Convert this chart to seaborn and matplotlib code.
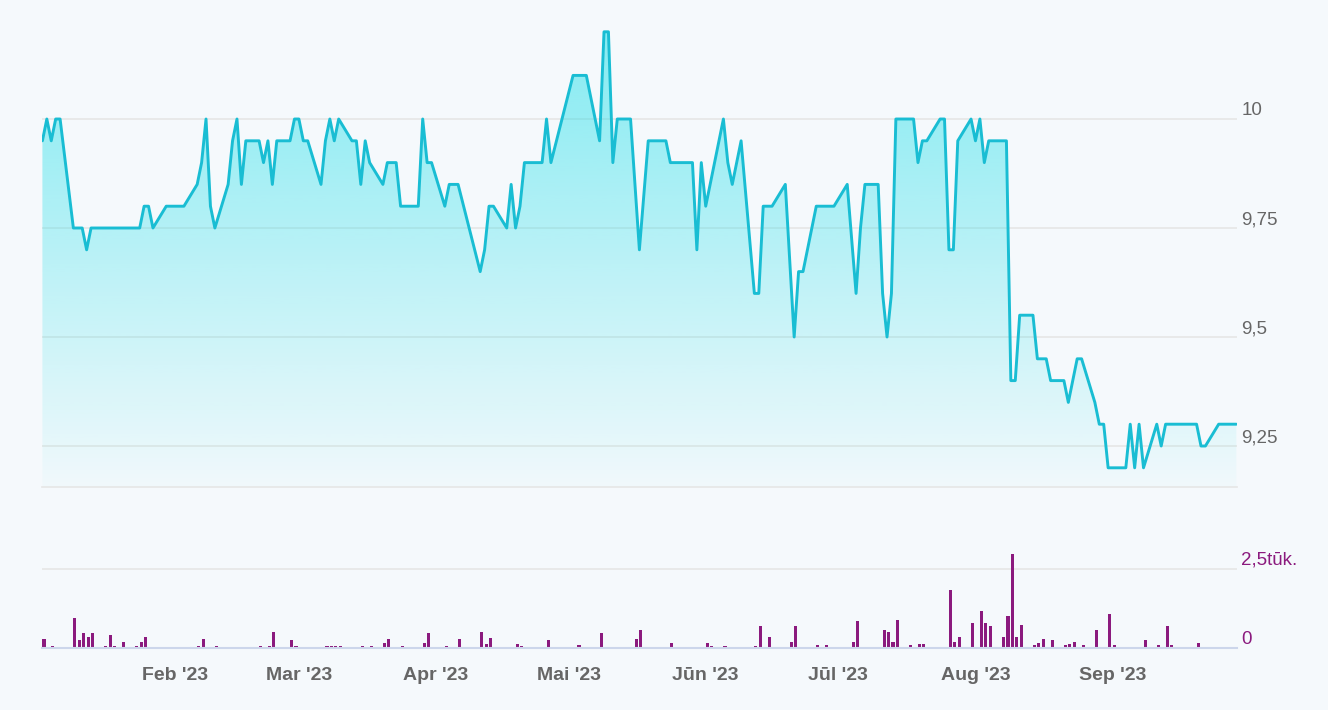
import numpy as np
import pandas as pd
import seaborn as sns
import matplotlib.pyplot as plt
import matplotlib.dates as mdates
from matplotlib.colors import to_rgb

# closing price (only the days where the line turns)
price_dates = [
    '2023-01-02', '2023-01-03', '2023-01-04', '2023-01-05', '2023-01-06', '2023-01-09',
    '2023-01-11', '2023-01-12', '2023-01-13', '2023-01-24', '2023-01-25', '2023-01-26',
    '2023-01-27', '2023-01-30', '2023-02-03', '2023-02-06', '2023-02-07', '2023-02-08',
    '2023-02-09', '2023-02-10', '2023-02-13', '2023-02-14', '2023-02-15', '2023-02-16',
    '2023-02-17', '2023-02-20', '2023-02-21', '2023-02-22', '2023-02-23', '2023-02-24',
    '2023-02-27', '2023-02-28', '2023-03-01', '2023-03-02', '2023-03-03', '2023-03-06',
    '2023-03-07', '2023-03-08', '2023-03-09', '2023-03-10', '2023-03-13', '2023-03-14',
    '2023-03-15', '2023-03-16', '2023-03-17', '2023-03-20', '2023-03-21', '2023-03-23',
    '2023-03-24', '2023-03-28', '2023-03-29', '2023-03-30', '2023-03-31', '2023-04-03',
    '2023-04-04', '2023-04-06', '2023-04-11', '2023-04-12', '2023-04-13', '2023-04-14',
    '2023-04-17', '2023-04-18', '2023-04-19', '2023-04-20', '2023-04-21', '2023-04-25',
    '2023-04-26', '2023-04-27', '2023-05-02', '2023-05-05', '2023-05-08', '2023-05-09',
    '2023-05-10', '2023-05-11', '2023-05-12', '2023-05-15', '2023-05-17', '2023-05-19',
    '2023-05-23', '2023-05-24', '2023-05-29', '2023-05-30', '2023-05-31', '2023-06-01',
    '2023-06-05', '2023-06-06', '2023-06-07', '2023-06-09', '2023-06-12', '2023-06-13',
    '2023-06-14', '2023-06-16', '2023-06-19', '2023-06-21', '2023-06-22', '2023-06-23',
    '2023-06-26', '2023-06-30', '2023-07-03', '2023-07-05', '2023-07-06', '2023-07-07',
    '2023-07-10', '2023-07-11', '2023-07-12', '2023-07-13', '2023-07-14', '2023-07-18',
    '2023-07-19', '2023-07-20', '2023-07-21', '2023-07-24', '2023-07-25', '2023-07-26',
    '2023-07-27', '2023-07-28', '2023-07-31', '2023-08-01', '2023-08-02', '2023-08-03',
    '2023-08-04', '2023-08-08', '2023-08-09', '2023-08-10', '2023-08-11', '2023-08-14',
    '2023-08-15', '2023-08-17', '2023-08-18', '2023-08-21', '2023-08-22', '2023-08-24',
    '2023-08-25', '2023-08-28', '2023-08-29', '2023-08-30', '2023-08-31', '2023-09-04',
    '2023-09-05', '2023-09-06', '2023-09-07', '2023-09-08', '2023-09-11', '2023-09-12',
    '2023-09-13', '2023-09-20', '2023-09-21', '2023-09-22', '2023-09-25', '2023-09-29',
]
price_values = [
    9.95, 10.0, 9.95, 10.0, 10.0, 9.75,
    9.75, 9.7, 9.75, 9.75, 9.8, 9.8,
    9.75, 9.8, 9.8, 9.85, 9.9, 10.0,
    9.8, 9.75, 9.85, 9.95, 10.0, 9.85,
    9.95, 9.95, 9.9, 9.95, 9.85, 9.95,
    9.95, 10.0, 10.0, 9.95, 9.95, 9.85,
    9.95, 10.0, 9.95, 10.0, 9.95, 9.95,
    9.85, 9.95, 9.9, 9.85, 9.9, 9.9,
    9.8, 9.8, 10.0, 9.9, 9.9, 9.8,
    9.85, 9.85, 9.65, 9.7, 9.8, 9.8,
    9.75, 9.85, 9.75, 9.8, 9.9, 9.9,
    10.0, 9.9, 10.1, 10.1, 9.95, 10.2,
    10.2, 9.9, 10.0, 10.0, 9.7, 9.95,
    9.95, 9.9, 9.9, 9.7, 9.9, 9.8,
    10.0, 9.9, 9.85, 9.95, 9.6, 9.6,
    9.8, 9.8, 9.85, 9.5, 9.65, 9.65,
    9.8, 9.8, 9.85, 9.6, 9.75, 9.85,
    9.85, 9.6, 9.5, 9.6, 10.0, 10.0,
    9.9, 9.95, 9.95, 10.0, 10.0, 9.7,
    9.7, 9.95, 10.0, 9.95, 10.0, 9.9,
    9.95, 9.95, 9.4, 9.4, 9.55, 9.55,
    9.45, 9.45, 9.4, 9.4, 9.35, 9.45,
    9.45, 9.35, 9.3, 9.3, 9.2, 9.2,
    9.3, 9.2, 9.3, 9.2, 9.3, 9.25,
    9.3, 9.3, 9.25, 9.25, 9.3, 9.3,
]

# traded volume (pieces), days with trades only
volume_dates = [
    '2023-01-02', '2023-01-04', '2023-01-09', '2023-01-10', '2023-01-11', '2023-01-12',
    '2023-01-13', '2023-01-16', '2023-01-17', '2023-01-18', '2023-01-20', '2023-01-23',
    '2023-01-24', '2023-01-25', '2023-01-30', '2023-02-01', '2023-02-06', '2023-02-07',
    '2023-02-10', '2023-02-20', '2023-02-22', '2023-02-23', '2023-02-27', '2023-02-28',
    '2023-03-01', '2023-03-02', '2023-03-06', '2023-03-07', '2023-03-08', '2023-03-09',
    '2023-03-10', '2023-03-15', '2023-03-17', '2023-03-20', '2023-03-21', '2023-03-24',
    '2023-03-29', '2023-03-30', '2023-04-03', '2023-04-06', '2023-04-11', '2023-04-12',
    '2023-04-13', '2023-04-19', '2023-04-20', '2023-04-26', '2023-05-03', '2023-05-08',
    '2023-05-09', '2023-05-11', '2023-05-15', '2023-05-16', '2023-05-17', '2023-05-24',
    '2023-06-01', '2023-06-02', '2023-06-05', '2023-06-07', '2023-06-12', '2023-06-13',
    '2023-06-15', '2023-06-20', '2023-06-21', '2023-06-22', '2023-06-26', '2023-06-28',
    '2023-07-04', '2023-07-05', '2023-07-06', '2023-07-07', '2023-07-11', '2023-07-12',
    '2023-07-13', '2023-07-14', '2023-07-17', '2023-07-19', '2023-07-20', '2023-07-24',
    '2023-07-26', '2023-07-27', '2023-07-28', '2023-07-31', '2023-08-01', '2023-08-02',
    '2023-08-03', '2023-08-04', '2023-08-07', '2023-08-08', '2023-08-09', '2023-08-10',
    '2023-08-11', '2023-08-14', '2023-08-15', '2023-08-16', '2023-08-17', '2023-08-18',
    '2023-08-21', '2023-08-22', '2023-08-23', '2023-08-25', '2023-08-28', '2023-08-29',
    '2023-08-31', '2023-09-01', '2023-09-05', '2023-09-06', '2023-09-08', '2023-09-11',
    '2023-09-12', '2023-09-13', '2023-09-14', '2023-09-18', '2023-09-20', '2023-09-25',
    '2023-09-26', '2023-09-29',
]
volume_values = [
    300, 50, 950, 250, 470, 350,
    470, 50, 420, 70, 200, 50,
    180, 340, 40, 40, 50, 300,
    50, 50, 50, 520, 260, 70,
    40, 40, 40, 70, 70, 70,
    70, 50, 50, 160, 280, 70,
    160, 470, 50, 280, 510, 120,
    330, 120, 70, 260, 90, 490,
    20, 20, 20, 300, 570, 150,
    150, 70, 70, 20, 70, 690,
    360, 190, 705, 30, 80, 80,
    190, 840, 30, 30, 560, 510,
    180, 900, 80, 130, 130, 30,
    1825, 190, 360, 790, 30, 1170,
    790, 700, 360, 1020, 2960, 360,
    740, 80, 160, 290, 30, 240,
    80, 130, 190, 80, 570, 30,
    1070, 80, 30, 30, 260, 80,
    30, 705, 80, 30, 160, 30,
    30, 30,
]

month_ticks = ['2023-02-01', '2023-03-01', '2023-04-01', '2023-05-01',
               '2023-06-01', '2023-07-01', '2023-08-01', '2023-09-01']
month_labels = ["Feb '23", "Mar '23", "Apr '23", "Mai '23",
                "Jūn '23", "Jūl '23", "Aug '23", "Sep '23"]
price_ticks = [9.25, 9.5, 9.75, 10.0]
price_labels = ['9,25', '9,5', '9,75', '10']
volume_ticks = [0, 2500]
volume_labels = ['0', '2,5tūk.']

bg = '#f5f9fc'
line_col = '#19bdd3'
bar_col = '#8b1a7e'
grid_col = '#e6e6e6'
axis_col = '#ccd6eb'
text_col = '#666666'

prices = pd.DataFrame({'date': pd.to_datetime(price_dates), 'price': price_values})
vol = pd.DataFrame({'date': pd.to_datetime(volume_dates), 'volume': volume_values})

sns.set_theme(style='white')
plt.rcParams['font.family'] = ['Liberation Sans', 'DejaVu Sans']

fig = plt.figure(figsize=(13.28, 7.10), dpi=100, facecolor=bg)
ax = fig.add_axes([0.0316, 0.3141, 0.8999, 0.6718])
axv = fig.add_axes([0.0316, 0.0873, 0.8999, 0.1381], sharex=ax)
for a in (ax, axv):
    a.set_facecolor('none')
    for s in a.spines.values():
        s.set_visible(False)

y_lo, y_hi = 9.156, 10.25
x_lo = mdates.date2num(prices['date'].iloc[0]) - 0.1
x_hi = mdates.date2num(prices['date'].iloc[-1]) + 0.15

# gradient area under the price line
area = ax.fill_between(prices['date'], prices['price'], y_lo, color='none', lw=0)
grad = np.zeros((256, 1, 4))
grad[:, :, :3] = to_rgb('#00dbe6')
grad[:, 0, 3] = np.linspace(0.02, 0.46, 256)
im = ax.imshow(grad, aspect='auto', origin='lower', interpolation='bilinear',
               extent=[x_lo, x_hi, y_lo, max(price_values)], zorder=1)
im.set_clip_path(area.get_paths()[0], transform=ax.transData)

sns.lineplot(data=prices, x='date', y='price', ax=ax, color=line_col, lw=2.1, zorder=3)

ax.set_xlim(x_lo, x_hi)
ax.set_ylim(y_lo, y_hi)
ax.set_xlabel('')
ax.set_ylabel('')
ax.set_yticks(price_ticks, price_labels, va='bottom')
ax.yaxis.tick_right()
ax.tick_params(axis='y', length=0, pad=3, labelsize=13.5, labelcolor=text_col)
ax.tick_params(axis='x', length=0, labelbottom=False)
ax.grid(axis='y', color=grid_col, lw=1.2)
ax.grid(axis='x', visible=False)
ax.spines['bottom'].set_visible(True)
ax.spines['bottom'].set_color(grid_col)
ax.spines['bottom'].set_linewidth(1.2)

# volume pane
axv.bar(vol['date'], vol['volume'], width=0.7, align='edge', color=bar_col, lw=0, zorder=3)
axv.set_ylim(0, 3100)
axv.set_yticks(volume_ticks, volume_labels, va='bottom')
axv.yaxis.tick_right()
axv.tick_params(axis='y', length=0, pad=3, labelsize=13.5, labelcolor=bar_col)
axv.grid(axis='y', color=grid_col, lw=1.2)
axv.grid(axis='x', visible=False)
axv.spines['bottom'].set_visible(True)
axv.spines['bottom'].set_color(axis_col)
axv.spines['bottom'].set_linewidth(1.5)
axv.spines['bottom'].set_zorder(4)
axv.set_xticks(pd.to_datetime(month_ticks), month_labels, fontweight='bold')
axv.tick_params(axis='x', length=10, width=1, color=axis_col, pad=4,
                labelsize=14, labelcolor=text_col)
axv.set_xlim(x_lo, x_hi)

fig.savefig('out.png', dpi=100, facecolor=bg)
